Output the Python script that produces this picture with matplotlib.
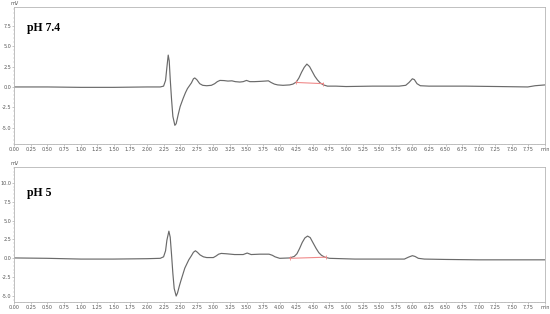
import matplotlib.pyplot as plt
from matplotlib.ticker import MultipleLocator
import numpy as np

# chromatogram traces (time in min, signal in mV)
t_top = [0.00, 0.50, 1.00, 1.50, 2.00, 2.20, 2.25, 2.28, 2.30, 2.32, 2.335, 2.35, 2.37, 2.39,
         2.42, 2.44, 2.47, 2.50, 2.545, 2.58, 2.61, 2.64, 2.67, 2.70, 2.72, 2.75, 2.795, 2.84,
         2.90, 2.97, 3.02, 3.06, 3.10, 3.16, 3.22, 3.28, 3.33, 3.40, 3.45, 3.50, 3.55, 3.62,
         3.70, 3.78, 3.83, 3.87, 3.92, 3.97, 4.05, 4.15, 4.20, 4.25, 4.29, 4.33, 4.37, 4.41,
         4.45, 4.49, 4.53, 4.57, 4.61, 4.66, 4.72, 4.85, 5.00, 5.40, 5.80, 5.90, 5.95, 6.00,
         6.03, 6.07, 6.12, 6.25, 6.80, 7.30, 7.74, 7.85, 8.00]
mv_top = [0.0, 0.0, -0.05, -0.05, 0.0, 0.0, 0.1, 0.8, 2.4, 3.9, 3.2, 1.0, -1.5, -3.6,
          -4.7, -4.5, -3.4, -2.4, -1.4, -0.7, -0.2, 0.15, 0.5, 1.0, 1.1, 0.9, 0.4, 0.2,
          0.15, 0.2, 0.4, 0.65, 0.8, 0.78, 0.72, 0.75, 0.65, 0.6, 0.65, 0.8, 0.65, 0.65,
          0.68, 0.72, 0.75, 0.55, 0.35, 0.25, 0.2, 0.25, 0.35, 0.6, 1.1, 1.8, 2.4, 2.8,
          2.5, 1.9, 1.3, 0.85, 0.5, 0.25, 0.1, 0.1, 0.05, 0.1, 0.1, 0.2, 0.55, 1.0,
          0.9, 0.4, 0.15, 0.1, 0.1, 0.05, 0.0, 0.15, 0.25]

t_bot = [0.00, 0.50, 1.00, 1.50, 2.00, 2.20, 2.25, 2.28, 2.30, 2.33, 2.35, 2.37, 2.39, 2.41,
         2.44, 2.46, 2.49, 2.51, 2.57, 2.63, 2.67, 2.70, 2.73, 2.76, 2.80, 2.85, 2.90, 3.00,
         3.04, 3.08, 3.12, 3.20, 3.32, 3.45, 3.51, 3.57, 3.70, 3.84, 3.89, 3.93, 4.00, 4.15,
         4.22, 4.26, 4.30, 4.34, 4.38, 4.42, 4.46, 4.50, 4.55, 4.59, 4.63, 4.68, 4.75, 5.13,
         5.50, 5.88, 5.94, 6.00, 6.04, 6.09, 6.18, 6.50, 7.00, 8.00]
mv_bot = [0.05, 0.0, -0.1, -0.1, -0.05, 0.0, 0.2, 1.0, 2.4, 3.6, 2.8, 0.5, -2.0, -4.0,
          -5.0, -4.6, -3.6, -3.0, -1.3, -0.2, 0.35, 0.8, 1.0, 0.8, 0.45, 0.2, 0.1, 0.1,
          0.3, 0.55, 0.65, 0.6, 0.5, 0.5, 0.7, 0.5, 0.55, 0.55, 0.4, 0.2, 0.0, 0.05,
          0.25, 0.6, 1.3, 2.1, 2.7, 2.95, 2.75, 2.1, 1.3, 0.75, 0.4, 0.15, 0.0, -0.1,
          -0.1, -0.1, 0.15, 0.35, 0.25, 0.0, -0.1, -0.15, -0.2, -0.2]

# integration baselines (red) under the main peak
base_top_t = [4.25, 4.66]
base_top_mv = [0.55, 0.4]
base_bot_t = [4.15, 4.70]
base_bot_mv = [0.0, 0.15]

labels = ["pH 7.4", "pH 5"]
label_y = [0.845, 0.81]
ylims = [(-7.0, 9.8), (-5.8, 12.1)]
yticks = [[-5.0, -2.5, 0.0, 2.5, 5.0, 7.5], [-5.0, -2.5, 0.0, 2.5, 5.0, 7.5, 10.0]]

fig = plt.figure(figsize=(5.5, 3.14), dpi=100)
ax1 = fig.add_axes([0.026, 0.541, 0.965, 0.437])
ax2 = fig.add_axes([0.026, 0.038, 0.965, 0.430])

traces = [(t_top, mv_top, base_top_t, base_top_mv), (t_bot, mv_bot, base_bot_t, base_bot_mv)]
xticks = np.arange(0, 8.01, 0.25)
xlabels = ["%.2f" % v for v in xticks[:-1]] + ["min"]

for ax, (t, mv, bt, bm), lab, ly, yl, yt in zip([ax1, ax2], traces, labels, label_y, ylims, yticks):
    ax.plot(t, mv, color="#6a6a6a", lw=0.85)
    ax.plot(bt, bm, color="#f08a8a", lw=0.8)
    ax.plot(bt, bm, ls="none", marker="|", ms=2.5, mew=0.6, color="#f08a8a")
    ax.set_xlim(0, 8.0)
    ax.set_ylim(*yl)
    ax.set_xticks(xticks)
    ax.set_xticklabels(xlabels)
    ax.set_yticks(yt)
    ax.set_yticklabels(["%.1f" % v for v in yt])
    ax.xaxis.set_minor_locator(MultipleLocator(0.05))
    ax.yaxis.set_minor_locator(MultipleLocator(0.5))
    ax.tick_params(axis="both", which="major", labelsize=3.5, labelcolor="#555555",
                   color="#999999", length=1.5, width=0.4, pad=0.8)
    ax.tick_params(axis="both", which="minor", color="#aaaaaa", length=1.0, width=0.3)
    for s in ax.spines.values():
        s.set_color("#b5b5b5")
        s.set_linewidth(0.6)
    ax.text(0.024, ly, lab, transform=ax.transAxes, fontsize=8.5, fontweight="bold",
            family="Liberation Serif", va="center", ha="left")
    ax.text(0.0, 1.005, "mV", transform=ax.transAxes, fontsize=3.5, color="#555555",
            ha="center", va="bottom")

fig.savefig("out.png", dpi=100)
